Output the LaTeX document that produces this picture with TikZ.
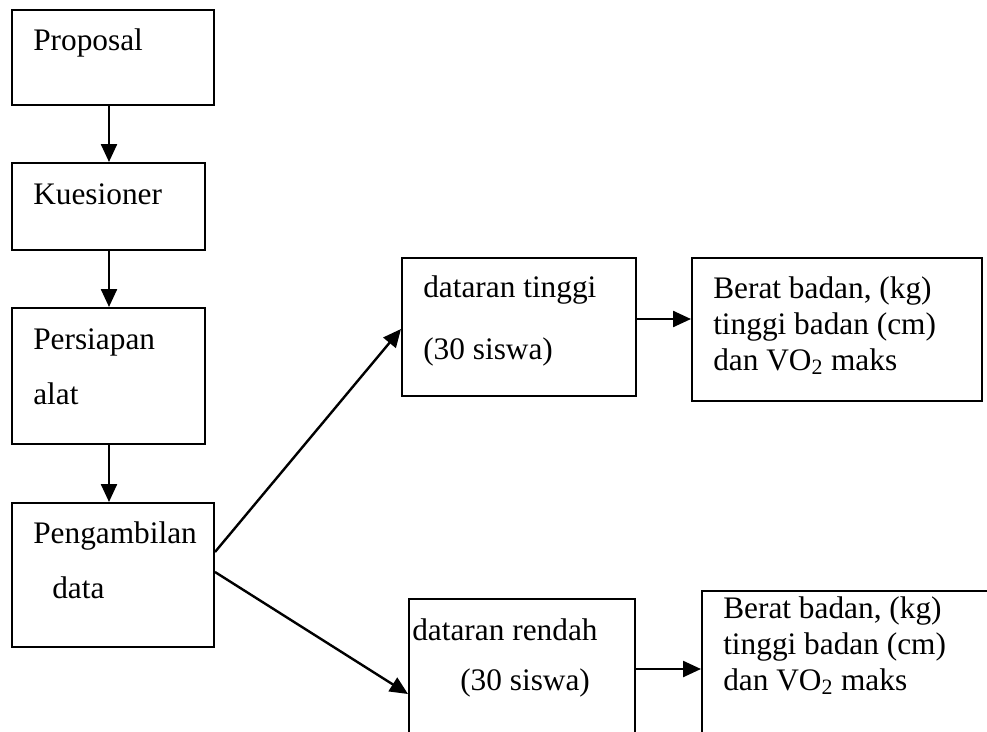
\documentclass[tikz,border=0pt]{standalone}
\usepackage{fontspec}
\setmainfont{Liberation Serif}
\usetikzlibrary{arrows.meta,calc,fit}
\definecolor{Ink}{HTML}{000000}
\tikzset{
  stepBox/.style={rectangle,draw=Ink,line width=1.5pt,fill=white,inner sep=0pt},
  stepText/.style={anchor=base west,inner sep=0pt,text=Ink,
    font=\fontsize{23.5}{27}\selectfont},
  flow/.style={-{Triangle[length=13.5pt,width=12pt]},draw=Ink,line width=1.8pt}
}
\begin{document}
\begin{tikzpicture}[x=0.75pt,y=-0.75pt]
  \clip (0,0) rectangle (987,731);
  \fill[white] (0,0) rectangle (987,731);
  % left column
  \node[stepBox,fit={(12,10) (214,105)}] (prop) {};
  \node[stepBox,fit={(12,163) (205,250)}] (kues) {};
  \node[stepBox,fit={(12,308) (205,444)}] (pers) {};
  \node[stepBox,fit={(12,503) (214,647)}] (peng) {};
  \node[stepText] (propT) at (33,51) {Proposal};
  \node[stepText] (kuesT) at (33,204) {Kuesioner};
  \node[stepText] (persT) at (33,349) {Persiapan};
  \node[stepText] (persT2) at (33,404) {alat};
  \node[stepText] (pengT) at (33,543) {Pengambilan};
  \node[stepText] (pengT2) at (52,598) {data};
  % highland / lowland groups
  \node[stepBox,fit={(402,258) (636,396)}] (ting) {};
  \node[stepBox,fit={(692,258) (982,401)}] (ber1) {};
  \node[stepBox,fit={(409,599) (635,760)}] (rend) {};
  \node[stepBox,fit={(702,591) (1000,760)}] (ber2) {};
  \node[stepText] (tingT) at (423,297) {dataran tinggi};
  \node[stepText] (tingT2) at (423,359) {(30 siswa)};
  \node[stepText,align=left,anchor=north west] (ber1T) at (713,276)
    {Berat badan, (kg)\\tinggi badan (cm)\\dan VO\textsubscript{2} maks};
  \node[stepText] (rendT) at (412,640) {dataran rendah};
  \node[stepText] (rendT2) at (460,690) {(30 siswa)};
  \node[stepText,align=left,anchor=north west] (ber2T) at (723,596)
    {Berat badan, (kg)\\tinggi badan (cm)\\dan VO\textsubscript{2} maks};
  % connectors
  \foreach \a/\b in {prop/kues,kues/pers,pers/peng}{
    \draw[flow] (\a.south west) ++(98,0) coordinate (t) -- (t |- \b.north);}
  \draw[flow] ($(peng.north east)+(0,50)$) -- ($(ting.north west)+(0,72)$);
  \draw[flow] ($(peng.north east)+(0,70)$) -- ($(rend.north west)+(0,96)$);
  \draw[flow] ($(ting.north east)+(0,62)$) coordinate (h1) -- (h1 -| ber1.west);
  \draw[flow] ($(rend.north east)+(0,71)$) coordinate (h2) -- (h2 -| ber2.west);
\end{tikzpicture}
\end{document}
